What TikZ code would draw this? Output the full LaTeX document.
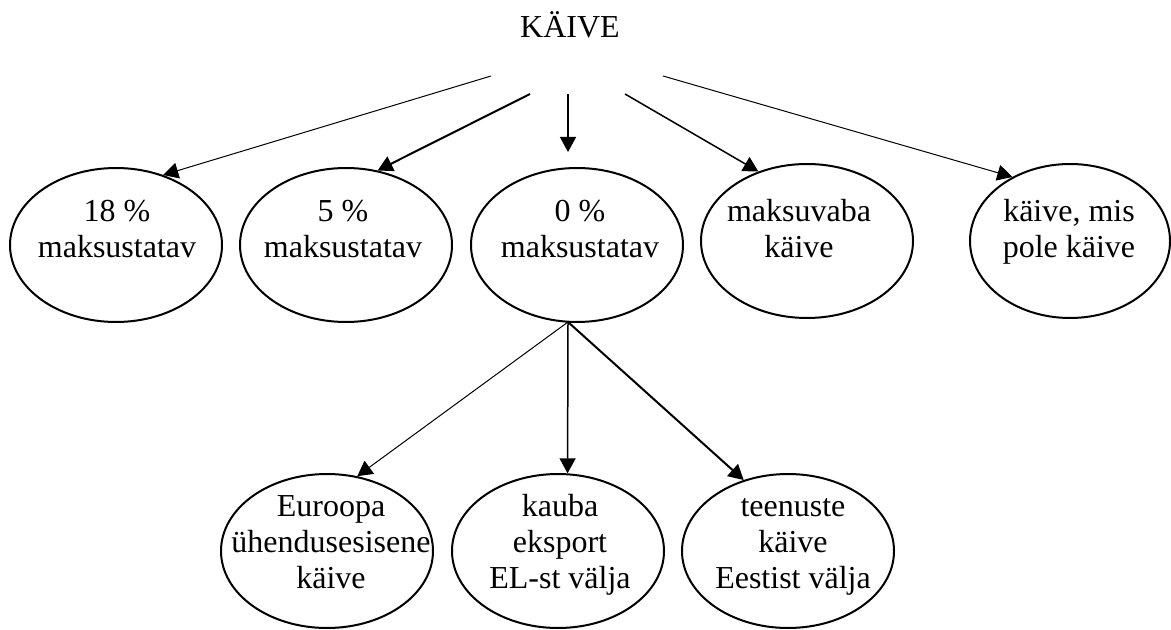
\documentclass[tikz,border=0pt]{standalone}
\usepackage{fontspec}
\setmainfont{Liberation Serif}
\usetikzlibrary{shapes.geometric,arrows.meta}

\begin{document}
\begin{tikzpicture}[x=0.5pt,y=-0.5pt,
	oval/.style={ellipse,draw=black,line width=1pt,minimum width=106pt,minimum height=77pt,inner sep=0pt},
	lbl/.style={align=center,inner sep=0pt,font=\fontsize{16}{18}\selectfont},
	arr/.style={-{Triangle[length=7.5pt,width=8pt]},line width=0.75pt},
	thinarr/.style={arr,line width=0.5pt},
	thickarr/.style={arr,line width=1pt}]
		\useasboundingbox (0,0) rectangle (1171,630);
		\node[lbl,anchor=base] (title) at (570,38) {KÄIVE};
		
		% upper row
		\node[oval] (e1) at (116,245) {};
		\node[oval] (e2) at (346,245) {};
		\node[oval] (e3) at (577,245) {};
		\node[oval] (e4) at (807,241) {};
		\node[oval,minimum width=100pt] (e5) at (1070,241) {};
		\node[lbl,shift={(1,-16)}] (t1) at (e1.center) {18 \%\\maksustatav};
		\node[lbl,shift={(-3,-16)}] (t2) at (e2.center) {5 \%\\maksustatav};
		\node[lbl,shift={(3,-16)}] (t3) at (e3.center) {0 \%\\maksustatav};
		\node[lbl,shift={(-8,-12)}] (t4) at (e4.center) {maksuvaba\\käive};
		\node[lbl,shift={(-1,-9)}] (t5) at (e5.center) {käive, mis\\pole käive};
		
		% lower row
		\node[oval] (e6) at (327,551) {};
		\node[oval] (e7) at (558,551) {};
		\node[oval] (e8) at (788,551) {};
		\node[lbl,shift={(4,-9)}] (t6) at (e6.center) {Euroopa\\ühendusesisene\\käive};
		\node[lbl,shift={(2,-6)}] (t7) at (e7.center) {kauba\\eksport\\EL-st välja};
		\node[lbl,shift={(5,-4)}] (t8) at (e8.center) {teenuste\\käive\\Eestist välja};
		
		% arrows from the title
		\coordinate (s1) at (491,76);
		\coordinate (s2) at (530,94);
		\coordinate (s3) at (568,94);
		\coordinate (s4) at (625,94);
		\coordinate (s5) at (663,76);
		\coordinate (h3) at (568,152);
		\draw[thinarr] (s1)--(e1.56);
		\draw[thickarr] (s2)--(e2.67);
		\draw[arr] (s3)--(h3);
		\draw[arr] (s4)--(e4.125);
		\draw[thinarr] (s5)--(e5.132);
		
		% arrows from 0 %
		\coordinate (br) at (568,322);
		\draw[thinarr] (br)--(e6.68);
		\draw[arr] (br)--(e7.83);
		\draw[thickarr] (br)--(e8.122);
	\end{tikzpicture}
\end{document}
